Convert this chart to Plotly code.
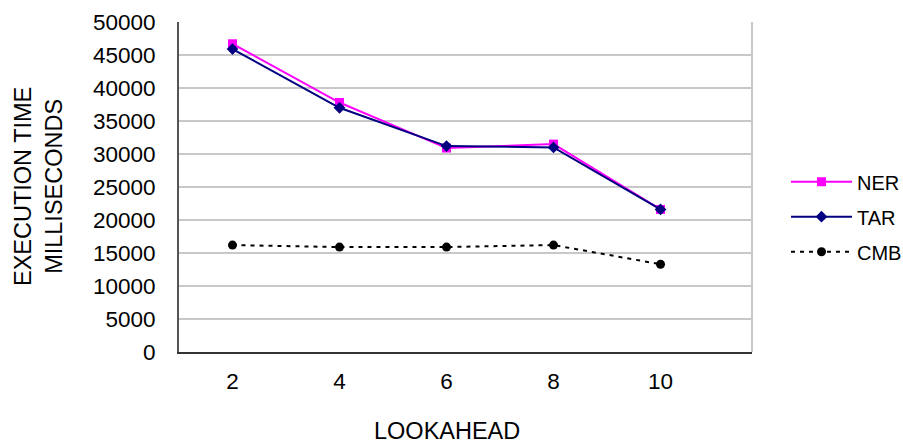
import plotly.graph_objects as go

# Lookahead depth versus execution time (ms) for three strategies
lookahead = [2, 4, 6, 8, 10]
ner = [46700, 37800, 30900, 31500, 21600]
tar = [45900, 37000, 31200, 31000, 21600]
cmb = [16200, 15900, 15900, 16200, 13300]
y_ticks = [0, 5000, 10000, 15000, 20000, 25000, 30000, 35000, 40000, 45000, 50000]

FONT = "Liberation Sans, Arial, sans-serif"

fig = go.Figure()
fig.add_trace(go.Scatter(
    x=lookahead, y=ner, name="NER", mode="lines+markers", legendgroup="ner",
    line=dict(color="#ff00ff", width=2),
    marker=dict(symbol="square", size=9, color="#ff00ff"),
))
fig.add_trace(go.Scatter(
    x=lookahead, y=tar, name="TAR", mode="lines+markers", legendgroup="tar",
    line=dict(color="#000080", width=2),
    marker=dict(symbol="diamond", size=9, color="#000080"),
))
fig.add_trace(go.Scatter(
    x=lookahead, y=cmb, name="CMB", mode="lines+markers", legendgroup="cmb",
    line=dict(color="#000000", width=2, dash="4px,5px"),
    marker=dict(symbol="circle", size=9, color="#000000"),
))

fig.update_layout(
    width=903, height=445,
    margin=dict(l=179, r=151, t=22, b=93, autoexpand=False),
    paper_bgcolor="white", plot_bgcolor="white",
    font=dict(family=FONT, size=22.5, color="black"),
    showlegend=True,
    legend=dict(
        x=(786 - 179) / 573, y=0.41, xanchor="left", yanchor="middle",
        font=dict(family=FONT, size=20, color="black"),
        itemwidth=61, tracegroupgap=6, bgcolor="rgba(0,0,0,0)",
    ),
    xaxis=dict(
        range=[1, 11.71], tickvals=lookahead, ticktext=[str(v) for v in lookahead],
        showgrid=False, zeroline=False, showline=True, linecolor="#333333", linewidth=2,
        ticks="", ticklabelstandoff=8,
    ),
    yaxis=dict(
        range=[0, 50000], tickvals=y_ticks, ticktext=[str(v) for v in y_ticks],
        showgrid=True, gridcolor="#c8c8c8", gridwidth=2, zeroline=False,
        showline=True, linecolor="#555555", linewidth=2,
        ticks="", ticklabelstandoff=17,
    ),
    shapes=[dict(type="line", xref="paper", yref="paper", x0=1, x1=1, y0=0, y1=1,
                 line=dict(color="#c8c8c8", width=2))],
    annotations=[
        dict(text="EXECUTION TIME<br>MILLISECONDS", textangle=-90,
             xref="paper", yref="paper", x=-0.246, y=0.5,
             xanchor="center", yanchor="middle", showarrow=False,
             font=dict(family=FONT, size=23.5, color="black")),
        dict(text="LOOKAHEAD", xref="x", yref="paper", x=6, y=-0.239,
             xanchor="center", yanchor="middle", showarrow=False,
             font=dict(family=FONT, size=23.5, color="black")),
    ],
)

fig.write_html("out.html")
